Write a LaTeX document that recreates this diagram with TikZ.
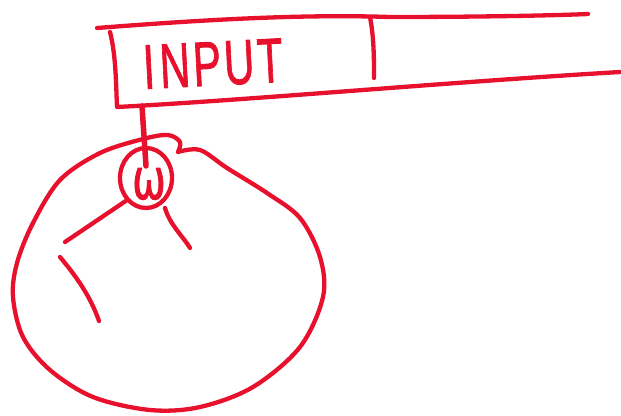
\documentclass[tikz,border=0pt]{standalone}
\usepackage{fontspec}
\setmainfont{Liberation Sans}
\newfontfamily\handfont[FakeBold=1.5]{Liberation Sans}
\newfontfamily\symfont[FakeBold=2]{DejaVu Sans}
\usetikzlibrary{shapes.geometric}
\definecolor{pen}{HTML}{E8112D}
\begin{document}
\begin{tikzpicture}[x=1pt,y=-1pt,
  ink/.style={draw=pen,line width=4.3pt,line cap=round,line join=round},
  hand/.style={text=pen,inner sep=0pt}]
\useasboundingbox (0,0) rectangle (621,415);
% tape
\draw[ink] (97,28) .. controls (200,20) and (300,14) .. (390,17) .. controls (460,17) and (540,16) .. (588,14);
\draw[ink] (110,32) .. controls (116,55) and (116,85) .. (117,107) .. controls (250,100) and (450,82) .. (620,72);
\draw[ink] (370,17) .. controls (374,38) and (374,58) .. (374,78);
\node[hand,rotate=3] (input) at (213,64) {\scalebox{1}[1.5]{\handfont\fontsize{42}{42}\selectfont I\kern5pt N\kern3pt P\kern3pt U\kern3pt T}};
% small circle
\node[ellipse,ink,minimum width=52pt,minimum height=60pt,inner sep=0pt] (w) at (146,178) {};
\node[hand] (wl) at (149,184) {\scalebox{1}[1.4]{\symfont\fontsize{40}{40}\selectfont ω}};
\coordinate (stemtop) at (142,106);
\coordinate (stembot) at (146,166);
\draw[ink,line width=5.5pt] (stemtop) -- (stembot);
% big blob
\draw[ink] plot[smooth,tension=0.55] coordinates {(178,152) (200,150) (227,168) (267,193) (300,218) (320,257) (323,297) (300,347) (253,387) (200,407) (150,410) (93,397) (50,370) (23,337) (13,297) (17,263) (33,223) (60,180) (100,153) (143,139) (168,135) (180,142) (178,152)};
% strokes
\coordinate (a1) at (65,242);
\draw[ink] (w.south west) -- (a1);
\coordinate (b0) at (165,208);
\coordinate (b1) at (190,248);
\draw[ink] (b0) .. controls (170,225) and (182,235) .. (b1);
\coordinate (c0) at (60,257);
\coordinate (c1) at (99,321);
\draw[ink] (c0) .. controls (75,275) and (90,295) .. (c1);
\end{tikzpicture}
\end{document}
